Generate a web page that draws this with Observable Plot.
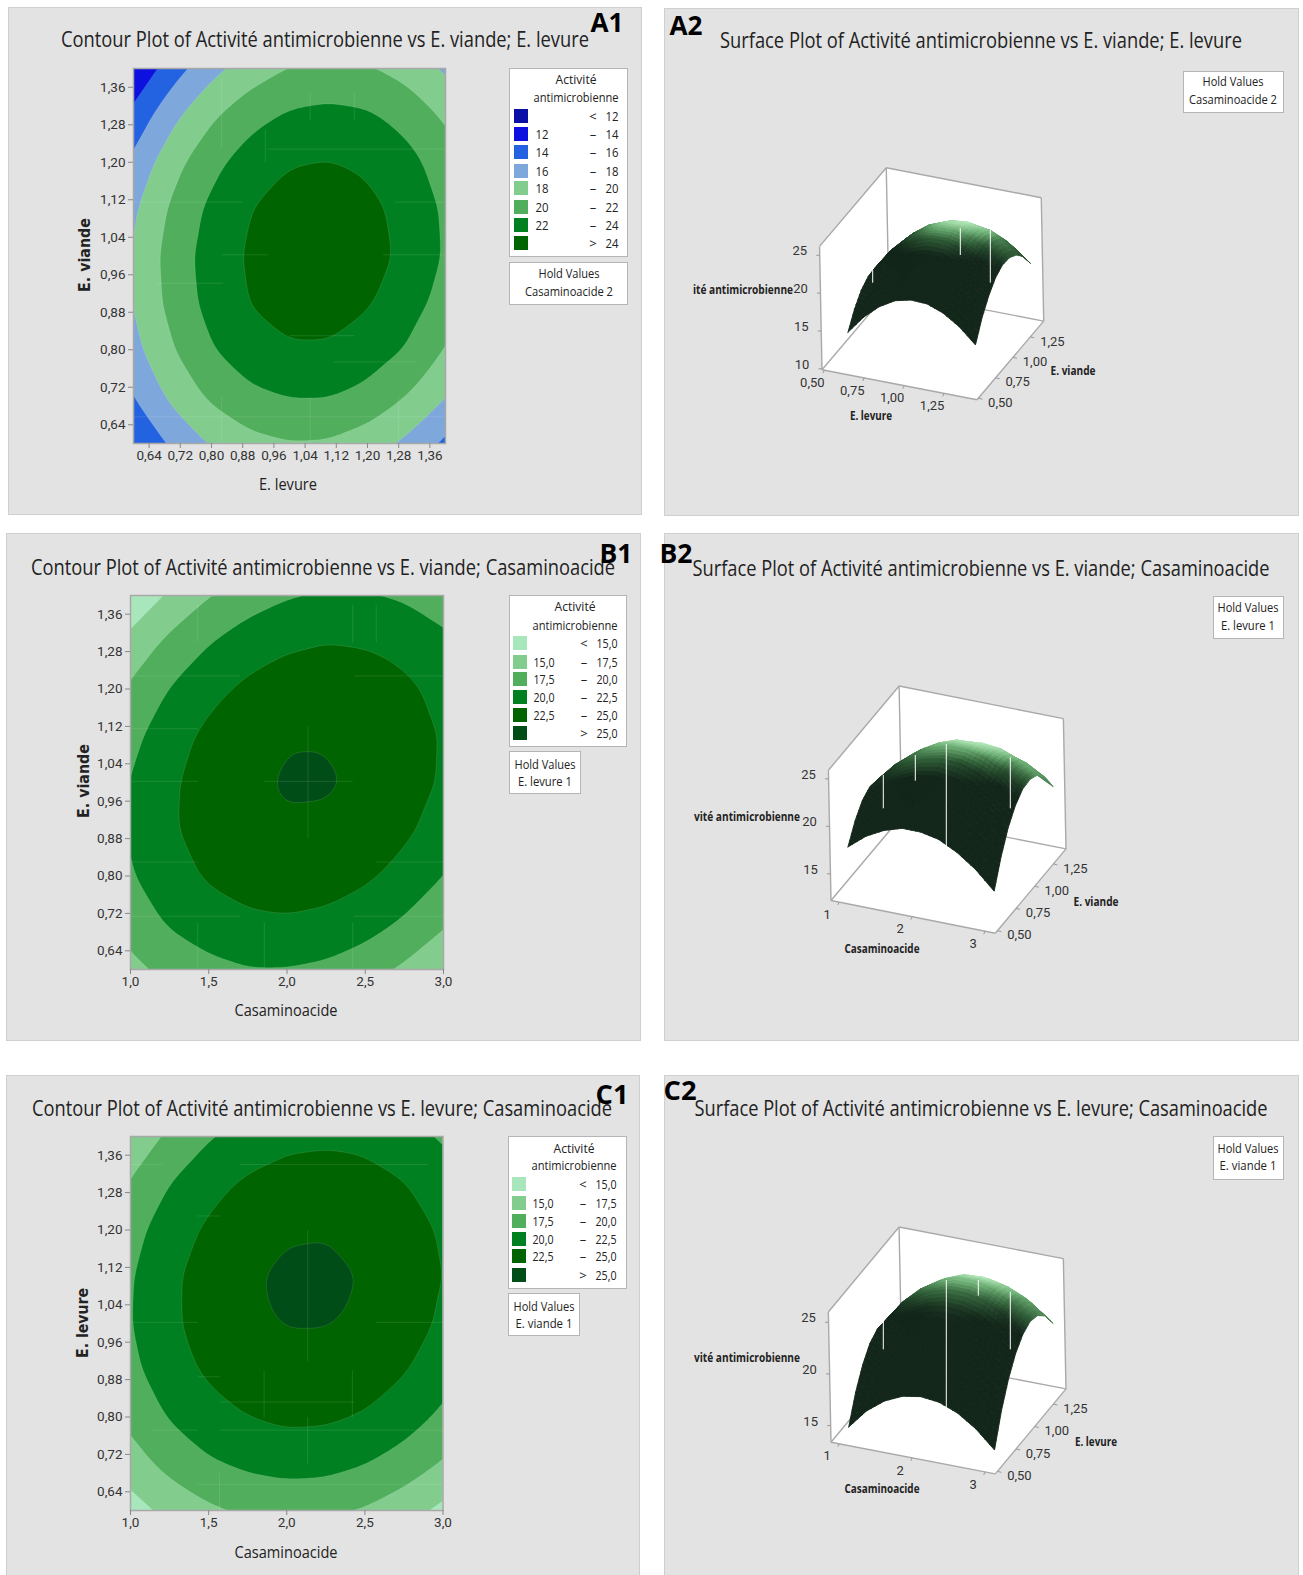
<!DOCTYPE html>
<html lang="fr">
<head>
<meta charset="utf-8">
<title>Contour and surface plots</title>
<script src="https://cdn.jsdelivr.net/npm/d3@7"></script>
<script src="https://cdn.jsdelivr.net/npm/@observablehq/plot@0.6"></script>
<style>
html,body{margin:0;padding:0;background:#fff}
#page{position:relative;width:1303px;height:1575px;overflow:hidden;background:#fff;font-family:"Noto Sans","Open Sans",sans-serif;color:#222}
.panel{position:absolute;background:#e3e3e3;box-sizing:border-box;border:1.5px solid #cfcfcf}
.box{position:absolute;background:#fff;box-sizing:border-box;border:1.5px solid #b5b5b5}
.swatch{position:absolute}
.t{position:absolute;white-space:nowrap;line-height:1}
svg{position:absolute;overflow:visible;background:transparent}
</style>
</head>
<body>
<div id="page"></div>
<script>
// ---------- values ----------
const levureLevels = [0.6,0.7,0.8,0.9,1.0,1.1,1.2,1.3,1.4];
const viandeLevels = [0.6,0.7,0.8,0.9,1.0,1.1,1.2,1.3,1.4];
const casaminoLevels = [1,1.25,1.5,1.75,2,2.25,2.5,2.75,3];

// activity, rows = y factor ascending, columns = x factor ascending
const activityA = [
 [14.0,16.4,18.2,19.4,19.9,19.8,19.0,17.6,15.6],
 [16.0,18.5,20.4,21.6,22.1,22.1,21.4,20.0,18.1],
 [17.4,19.9,21.9,23.1,23.8,23.8,23.1,21.9,19.9],
 [18.1,20.7,22.7,24.1,24.8,24.8,24.2,23.0,21.2],
 [18.2,20.9,22.9,24.3,25.1,25.2,24.7,23.6,21.8],
 [17.7,20.4,22.5,24.0,24.8,25.0,24.5,23.4,21.7],
 [16.5,19.3,21.4,23.0,23.9,24.1,23.7,22.7,21.0],
 [14.6,17.5,19.7,21.3,22.3,22.6,22.3,21.3,19.7],
 [12.2,15.1,17.4,19.0,20.1,20.4,20.2,19.3,17.7]
];
const activityB = [
 [16.8,18.3,19.3,19.9,19.9,19.5,18.5,17.1,15.2],
 [18.6,20.3,21.4,22.0,22.2,21.9,21.1,19.7,17.9],
 [19.8,21.5,22.8,23.6,23.9,23.6,22.9,21.7,20.0],
 [20.3,22.2,23.5,24.4,24.8,24.7,24.1,23.0,21.4],
 [20.1,22.1,23.6,24.6,25.2,25.2,24.7,23.7,22.2],
 [19.3,21.4,23.1,24.2,24.9,24.9,24.5,23.7,22.3],
 [17.9,20.1,21.8,23.0,23.8,24.0,23.8,23.0,21.8],
 [15.8,18.1,19.9,21.3,22.1,22.5,22.3,21.7,20.6],
 [13.0,15.4,17.4,18.8,19.8,20.3,20.2,19.7,18.7]
];
const activityC = [
 [13.9,15.8,17.1,17.9,18.2,18.0,17.3,16.1,14.4],
 [16.4,18.3,19.7,20.5,20.9,20.8,20.1,18.9,17.3],
 [18.2,20.2,21.6,22.5,23.0,22.9,22.3,21.2,19.5],
 [19.4,21.4,22.9,23.9,24.4,24.3,23.8,22.7,21.1],
 [19.9,22.0,23.6,24.6,25.1,25.1,24.7,23.7,22.1],
 [19.8,22.0,23.6,24.7,25.4,25.4,24.9,23.9,22.5],
 [19.1,21.3,22.9,24.1,24.8,24.9,24.5,23.6,22.2],
 [17.7,20.0,21.7,22.9,23.6,23.8,23.4,22.6,21.3],
 [15.7,18.0,19.8,21.0,21.8,22.0,21.8,21.0,19.7]
];

const thresholdsA = [0,12,14,16,18,20,22,24];
const coloursA = ["#0a0fa8","#0e10e0","#2362e0","#7ea7dc","#82cd8e","#50ae5c","#008020","#006400"];
const legendA = [["","<","12"],["12","–","14"],["14","–","16"],["16","–","18"],["18","–","20"],["20","–","22"],["22","–","24"],["",">","24"]];
const thresholdsBC = [0,15,17.5,20,22.5,25];
const coloursBC = ["#a8e6bc","#82cd8e","#50ae5c","#008020","#006400","#004d18"];
const legendBC = [["","<","15,0"],["15,0","–","17,5"],["17,5","–","20,0"],["20,0","–","22,5"],["22,5","–","25,0"],["",">","25,0"]];

const contourTicks = [0.64,0.72,0.80,0.88,0.96,1.04,1.12,1.20,1.28,1.36];
const casaminoTicks = [1.0,1.5,2.0,2.5,3.0];
const surfaceTicks = [0.5,0.75,1.0,1.25];
const surfaceCasaminoTicks = [1,2,3];

// white streaks across the surfaces, in picture units
const streaksA2 = [[871.7,270,282.7],[959.3,228.3,255],[989.3,230,282.7]];
const streaksB2 = [[882.3,775,808.3],[914.3,755,780.7],[945.3,744,848.3],[1009.3,757.3,808.3]];
const streaksC2 = [[882.3,1321.7,1349.3],[945.3,1280,1408.3],[977.3,1280,1295.7],[1009.3,1291.7,1349.3]];

// faint pale line fragments across the contour fills: x1, y1, x2, y2 in axis units
const pale1 = [[0.943,1.228,1.4,1.228],[0.6,1.115,0.88,1.115],[1.27,1.115,1.4,1.115],[0.826,1.0025,0.943,1.0025],[1.24,1.0025,1.4,1.0025],
  [0.66,0.942,0.83,0.942],[1.0,0.83,1.166,0.83],[1.113,0.774,1.325,0.774],[0.6,0.657,1.4,0.657],
  [0.826,1.38,0.826,1.23],[0.938,1.27,0.938,1.2],[1.053,1.35,1.053,1.29],[1.166,1.35,1.166,1.29],[0.826,0.7,0.826,0.6],[1.053,0.7,1.053,0.6],[1.28,0.7,1.28,0.6]];
const pale2 = [[1.0,1.115,1.43,1.115],[1.0,1.228,1.7,1.228],[2.43,1.228,3.0,1.228],[1.0,1.0025,1.43,1.0025],[1.85,1.0025,2.42,1.0025],[1.0,0.83,1.43,0.83],
  [2.57,0.83,3.0,0.83],[1.0,0.714,1.7,0.714],[2.43,0.714,3.0,0.714],[1.43,1.38,1.43,1.3],[2.134,1.12,2.134,0.88],[2.42,1.38,2.42,1.3],[2.57,1.38,2.57,1.3],[1.43,0.7,1.43,0.6],[1.855,0.7,1.855,0.6],[2.42,0.7,2.42,0.6]];
const pale3 = [[1.7,1.34,2.9,1.34],[1.0,1.34,1.2,1.34],[1.43,1.23,1.57,1.23],[1.0,1.0025,1.43,1.0025],[2.57,1.0025,3.0,1.0025],[1.43,0.886,1.57,0.886],
  [1.57,0.832,2.43,0.832],[1.14,0.772,1.43,0.772],[1.57,0.772,3.0,0.772],[1.43,0.656,3.0,0.656],[2.134,1.2,2.134,0.92],[1.855,0.9,1.855,0.8],[2.42,0.9,2.42,0.8],[1.57,0.68,1.57,0.6],[2.134,0.8,2.134,0.7]];

// ---------- helpers ----------
const page = document.getElementById("page");
const comma = (d, n=2) => d.toFixed(n).replace(".", ",");
const AXIS_FONT = '"Liberation Sans Narrow","Roboto","Open Sans",sans-serif';
const TEXT_FONT = '"Open Sans","Noto Sans",sans-serif';

function div(cls, l, t, w, h, bg){
  const e = document.createElement("div");
  e.className = cls;
  e.style.cssText = `left:${l}px;top:${t}px;width:${w}px;height:${h}px;` + (bg ? `background:${bg};` : "");
  page.appendChild(e);
  return e;
}
function text(str, cx, cy, size, width, opts={}){
  const e = document.createElement("div");
  e.className = "t";
  e.textContent = str;
  e.style.fontSize = size + "px";
  e.style.fontFamily = opts.font || TEXT_FONT;
  e.style.fontWeight = opts.weight || 400;
  if (opts.color) e.style.color = opts.color;
  page.appendChild(e);
  const w0 = e.getBoundingClientRect().width;
  const sx = width ? width / w0 : 1;
  e.style.left = cx + "px"; e.style.top = cy + "px";
  e.style.transform = `translate(-50%,-50%) ${opts.rotate ? "rotate(-90deg) " : ""}scaleX(${sx})`;
  return e;
}
function place(svg, l, t){
  svg.style.left = l + "px"; svg.style.top = t + "px";
  page.appendChild(svg);
}
function legend(rows, colours, g){
  div("box", g.l, g.t, g.r - g.l, g.b - g.t);
  text("Activité", g.cx, g.y1, 13, 41);
  text("antimicrobienne", g.cx, g.y2, 13, 85);
  rows.forEach((r, i) => {
    div("swatch", g.sx, g.rows[i] - 7, 14, 14, colours[i]);
    if (r[0]) text(r[0], g.lowX, g.rows[i], 13, r[0].length > 2 ? 21 : 13);
    text(r[1], g.signX, g.rows[i], 13);
    text(r[2], g.highX, g.rows[i], 13, r[2].length > 2 ? 21 : 13);
  });
}
function hold(lines, g){
  div("box", g.l, g.t, g.r - g.l, g.b - g.t);
  lines.forEach((s, i) => text(s[0], g.cx, g.ys[i], 13, s[1]));
}

function contourPlot(c){
  const [l, t, r, b] = c.frame;
  const mL = 45, mB = 30, mT = 5, mR = 8;
  const xN = c.xs.length - 1, yN = c.ys.length - 1;
  const ex = c.xs[1] - c.xs[0], ey = c.ys[1] - c.ys[0];
  // the read grid, with a guard ring outside the frame so that smoothing leaves the frame edges alone
  const V = c.values, points = [];
  for (let j = -1; j <= yN + 1; j++) for (let i = -1; i <= xN + 1; i++) {
    const ci = Math.min(Math.max(i,0),xN), cj = Math.min(Math.max(j,0),yN);
    let v = V[cj][ci];
    if (i < 0) v += V[cj][0] - V[cj][1];
    if (i > xN) v += V[cj][xN] - V[cj][xN-1];
    if (j < 0) v += V[0][ci] - V[1][ci];
    if (j > yN) v += V[yN][ci] - V[yN-1][ci];
    points.push({x: c.xs[0] + i*ex, y: c.ys[0] + j*ey, v});
  }
  const pale = c.pale.map(([x1,y1,x2,y2]) => ({x1,y1,x2,y2}));
  const svg = Plot.plot({
    width: r - l + mL + mR, height: b - t + mT + mB,
    marginLeft: mL, marginRight: mR, marginTop: mT, marginBottom: mB,
    style: {fontFamily: AXIS_FONT, fontSize: "13.5px", color: "#333", background: "transparent"},
    x: {domain: [c.xs[0], c.xs[xN]], axis: null},
    y: {domain: [c.ys[0], c.ys[yN]], axis: null},
    color: {type: "ordinal", domain: c.thresholds, range: c.colours},
    marks: [
      Plot.frame({fill: c.colours[0]}),
      Plot.contour(points, {
        x: "x", y: "y", value: "v", fill: "value",
        x1: c.xs[0] - ex, x2: c.xs[xN] + ex, y1: c.ys[0] - ey, y2: c.ys[yN] + ey,
        interpolate: "barycentric", pixelSize: 2, blur: 4,
        thresholds: c.thresholds,
        stroke: "#fff", strokeOpacity: 0.16, strokeWidth: 0.7, clip: "frame"
      }),
      Plot.link(pale, {x1:"x1",y1:"y1",x2:"x2",y2:"y2",stroke:"#fff",strokeOpacity:0.11,strokeWidth:1,clip:"frame"}),
      Plot.frame({stroke: "#a8a8a8", strokeWidth: 1.5}),
      Plot.axisX({ticks: c.xTicks, tickFormat: c.xFormat, label: null, tickSize: 5, tickPadding: 2, fontSize: 13.5, stroke: "#888"}),
      Plot.axisY({ticks: c.yTicks, tickFormat: d => comma(d), label: null, tickSize: 5, tickPadding: 3, fontSize: 13.5, stroke: "#888"})
    ]
  });
  place(svg, l - mL, t - mT);
}

function surfacePlot(c){
  const [L, T, R, B] = c.panel;
  const P = (a, b, z) => {
    const s = (a - c.aBox[0]) / (c.aBox[1] - c.aBox[0]);
    const u = (b - c.bBox[0]) / (c.bBox[1] - c.bBox[0]);
    const h = z - c.zBox[0];
    return {x: c.O[0] + s*c.U[0] + u*c.V[0] + h*c.W[0], y: c.O[1] + s*c.U[1] + u*c.V[1] + h*c.W[1]};
  };
  const [a0,a1] = c.aBox, [b0,b1] = c.bBox, [zB,zT] = c.zBox;
  const wall = [[a0,b0,zB],[a1,b0,zB],[a1,b1,zB],[a1,b1,zT],[a0,b1,zT],[a0,b0,zT],[a0,b0,zB]].map(p => P(...p));
  const edges = [
    [[a0,b0,zB],[a0,b0,zT]],[[a0,b0,zT],[a0,b1,zT]],[[a0,b1,zT],[a1,b1,zT]],[[a1,b1,zT],[a1,b1,zB]],
    [[a1,b1,zB],[a1,b0,zB]],[[a1,b0,zB],[a0,b0,zB]],[[a0,b0,zB],[a0,b1,zB]],[[a0,b1,zB],[a1,b1,zB]],[[a0,b1,zB],[a0,b1,zT]]
  ].map(([p,q]) => { const A = P(...p), Q = P(...q); return {x1:A.x,y1:A.y,x2:Q.x,y2:Q.y}; });

  // surface grid, painted far to near
  const Z = c.values, nx = c.xs.length, ny = c.ys.length;
  const shade = Z.map((row,j) => row.map((_,i) => {
    const i1 = Math.max(i-1,0), i2 = Math.min(i+1,nx-1), j1 = Math.max(j-1,0), j2 = Math.min(j+1,ny-1);
    const gs = (Z[j][i2]-Z[j][i1])/(i2-i1)*(nx-1);
    const gt = (Z[j2][i]-Z[j1][i])/(j2-j1)*(ny-1);
    return Math.exp(-((gs/12)**2) - (((gt+7.5)/12)**2));
  }));
  const tone = d3.scaleLinear().domain([0,0.1,0.3,0.6,0.95]).range(["#13261a","#13261a","#2f5c36","#6cae74","#b4e8ba"]).clamp(true);
  const n = 4, rows = [];
  let id = 0;
  const bil = (m,i,j,u,v) => (m[j][i]*(1-u)+m[j][i+1]*u)*(1-v) + (m[j+1][i]*(1-u)+m[j+1][i+1]*u)*v;
  const lerp = (arr,i,u) => arr[i] + (arr[i+1]-arr[i])*u;
  for (let j = ny-2; j >= 0; j--) for (let q = n-1; q >= 0; q--)
    for (let i = 0; i < nx-1; i++) for (let p = 0; p < n; p++) {
      const u0=p/n,u1=(p+1)/n,v0=q/n,v1=(q+1)/n;
      const col = tone(bil(shade,i,j,(u0+u1)/2,(v0+v1)/2));
      const key = id++;
      for (const [u,v] of [[u0,v0],[u1,v0],[u1,v1],[u0,v1],[u0,v0]]) {
        const pt = P(lerp(c.xs,i,u), lerp(c.ys,j,v), bil(Z,i,j,u,v));
        rows.push({x:pt.x,y:pt.y,id:key,col});
      }
    }

  const zTickData = c.zTicks.map(z => { const p = P(a0,b0,z); return {x1:p.x-3.5,y1:p.y,x2:p.x,y2:p.y,lx:p.x-20,ly:p.y-4,label:String(z)}; });
  const aTickData = c.aTicks.map(a => { const p = P(a,b0,zB); return {x1:p.x,y1:p.y,x2:p.x-1.5,y2:p.y+3,lx:p.x-12,ly:p.y+12.5,label:c.aFormat(a)}; });
  const bTickData = c.bTicks.map(b => { const p = P(a1,b,zB); return {x1:p.x,y1:p.y,x2:p.x+4,y2:p.y+1,lx:p.x+22,ly:p.y+4.5,label:comma(b)}; });
  const ticks = [...zTickData,...aTickData,...bTickData];
  const streaks = c.streaks.map(([x,y1,y2]) => ({x,y1,y2}));

  const svg = Plot.plot({
    width: R-L, height: B-T, margin: 0,
    style: {fontFamily: AXIS_FONT, fontSize: "13px", color: "#333", background: "transparent"},
    x: {domain:[L,R], range:[0,R-L], axis:null},
    y: {domain:[T,B], range:[0,B-T], axis:null},
    color: {type:"identity"},
    marks: [
      Plot.line(wall, {x:"x",y:"y",fill:"#ffffff",stroke:"none"}),
      Plot.link(edges, {x1:"x1",y1:"y1",x2:"x2",y2:"y2",stroke:"#a9a9a9",strokeWidth:1.4}),
      Plot.link(ticks, {x1:"x1",y1:"y1",x2:"x2",y2:"y2",stroke:"#999",strokeWidth:1}),
      Plot.text(ticks, {x:"lx",y:"ly",text:"label",fill:"#333",fontSize:13}),
      Plot.line(rows, {x:"x",y:"y",z:"id",fill:"col",stroke:"col",strokeWidth:0.9}),
      Plot.ruleX(streaks, {x:"x",y1:"y1",y2:"y2",stroke:"#fff",strokeWidth:1})
    ]
  });
  place(svg, L, T);
}

// ---------- panels ----------
const panels = {
  A1:[8,6.5,642,515], A2:[663.5,8,1299,516],
  B1:[6,533,641,1041], B2:[663.5,533,1299,1041],
  C1:[5.5,1075,640,1585], C2:[663.5,1075,1299,1585]
};
for (const k in panels){ const [l,t,r,b] = panels[k]; div("panel", l, t, r-l, b-t); }

const f2 = d => comma(d), f1 = d => comma(d,1);

contourPlot({frame:[133,68,445,443],values:activityA,xs:levureLevels,ys:viandeLevels,xTicks:contourTicks,yTicks:contourTicks,xFormat:f2,thresholds:thresholdsA,colours:coloursA,pale:pale1});
contourPlot({frame:[130,595,443,969],values:activityB,xs:casaminoLevels,ys:viandeLevels,xTicks:casaminoTicks,yTicks:contourTicks,xFormat:f1,thresholds:thresholdsBC,colours:coloursBC,pale:pale2});
contourPlot({frame:[129.5,1136,442,1510],values:activityC,xs:casaminoLevels,ys:levureLevels,xTicks:casaminoTicks,yTicks:contourTicks,xFormat:f1,thresholds:thresholdsBC,colours:coloursBC,pale:pale3});

surfacePlot({panel:panels.A2,values:activityA,xs:levureLevels,ys:viandeLevels,
  O:[821,369.3],U:[155,30],V:[66.7,-78.7],W:[-0.15,-7.57],aBox:[0.4854,1.456],bBox:[0.4808,1.4423],zBox:[9.87,26.17],
  zTicks:[10,15,20,25],aTicks:surfaceTicks,bTicks:surfaceTicks,aFormat:f2,streaks:streaksA2});
surfacePlot({panel:panels.B2,values:activityB,xs:casaminoLevels,ys:viandeLevels,
  O:[830,900],U:[164.3,32.7],V:[70.7,-84.3],W:[-0.19,-9.5],aBox:[0.887,3.139],bBox:[0.4716,1.4186],zBox:[12.19,25.9],
  zTicks:[15,20,25],aTicks:surfaceCasaminoTicks,bTicks:surfaceTicks,aFormat:String,streaks:streaksB2});
surfacePlot({panel:panels.C2,values:activityC,xs:casaminoLevels,ys:levureLevels,
  O:[830,1441.7],U:[164.3,31.7],V:[70.7,-85],W:[-0.21,-10.33],aBox:[0.887,3.139],bBox:[0.4716,1.4186],zBox:[13.39,26],
  zTicks:[15,20,25],aTicks:surfaceCasaminoTicks,bTicks:surfaceTicks,aFormat:String,streaks:streaksC2});

// ---------- titles ----------
text("Contour Plot of Activité antimicrobienne vs E. viande; E. levure",324.5,39,21,528);
text("Surface Plot of Activité antimicrobienne vs E. viande; E. levure",980.5,40,21,522);
text("Contour Plot of Activité antimicrobienne vs E. viande; Casaminoacide",323,566.6,21,584);
text("Surface Plot of Activité antimicrobienne vs E. viande; Casaminoacide",980.5,567.6,21,577);
text("Contour Plot of Activité antimicrobienne vs E. levure; Casaminoacide",322,1108,21,580);
text("Surface Plot of Activité antimicrobienne vs E. levure; Casaminoacide",980.5,1108,21,573);

for (const [s,x,y] of [["A1",607,22],["A2",686,25],["B1",616,552.5],["B2",676,552.5],["C1",612,1094],["C2",680,1090]])
  text(s,x,y,26,33,{weight:700,color:"#000"});

// axis titles
text("E. levure",288.3,483,17,58);
text("Casaminoacide",286.3,1008.6,17,103);
text("Casaminoacide",286,1551,17,103);
text("E. viande",85.4,255,15,74,{rotate:true,weight:600,font:'"DejaVu Sans",sans-serif'});
text("E. viande",84,780.6,15,74,{rotate:true,weight:600,font:'"DejaVu Sans",sans-serif'});
text("E. levure",83,1323,15,70,{rotate:true,weight:600,font:'"DejaVu Sans",sans-serif'});

const B = {weight:700};
text("E. levure",870.7,415.7,12,42,B);
text("E. viande",1073,370.7,12,45,B);
text("ité antimicrobienne",743,290,12,100,B);
text("Casaminoacide",882,949,12,75,B);
text("E. viande",1095.7,901.7,12,45,B);
text("vité antimicrobienne",747,816.7,12,106,B);
text("Casaminoacide",882,1489.3,12,75,B);
text("E. levure",1095.7,1442.3,12,42,B);
text("vité antimicrobienne",747,1357.7,12,106,B);

// ---------- legends ----------
legend(legendA,coloursA,{l:509,t:68,r:628,b:256.5,cx:576,y1:79,y2:97,sx:513.5,lowX:541.5,signX:593,highX:611.5,
  rows:[115.7,134.3,152.3,171,187.7,206.7,225,243.3]});
hold([["Hold Values",61],["Casaminoacide  2",88]],{l:509,t:262,r:628,b:304.5,cx:569,ys:[273,291]});
legend(legendBC,coloursBC,{l:508.5,t:595,r:627,b:747,cx:575,y1:606.2,y2:624.5,sx:512.5,lowX:544,signX:584,highX:606.5,
  rows:[642.7,661.7,678.7,696.7,714.7,732.7]});
hold([["Hold Values",61],["E. levure  1",54]],{l:508.5,t:750.7,r:581,b:794.5,cx:545,ys:[764.2,781.2]});
legend(legendBC,coloursBC,{l:507.5,t:1136,r:626.5,b:1288.5,cx:574,y1:1148,y2:1165.2,sx:511.5,lowX:543,signX:583,highX:605.5,
  rows:[1184.3,1202.7,1220.7,1238.7,1256,1275]});
hold([["Hold Values",61],["E. viande  1",57]],{l:507.5,t:1292.7,r:580,b:1336.5,cx:544,ys:[1306.2,1323.2]});

hold([["Hold Values",61],["Casaminoacide  2",88]],{l:1182.5,t:70.5,r:1284,b:113,cx:1233,ys:[80.5,98.5]});
hold([["Hold Values",61],["E. levure  1",54]],{l:1212.5,t:595.5,r:1284,b:639,cx:1248,ys:[607.3,624.5]});
hold([["Hold Values",61],["E. viande  1",57]],{l:1212.5,t:1136,r:1284,b:1179.5,cx:1248,ys:[1148,1165.3]});
</script>
</body>
</html>
